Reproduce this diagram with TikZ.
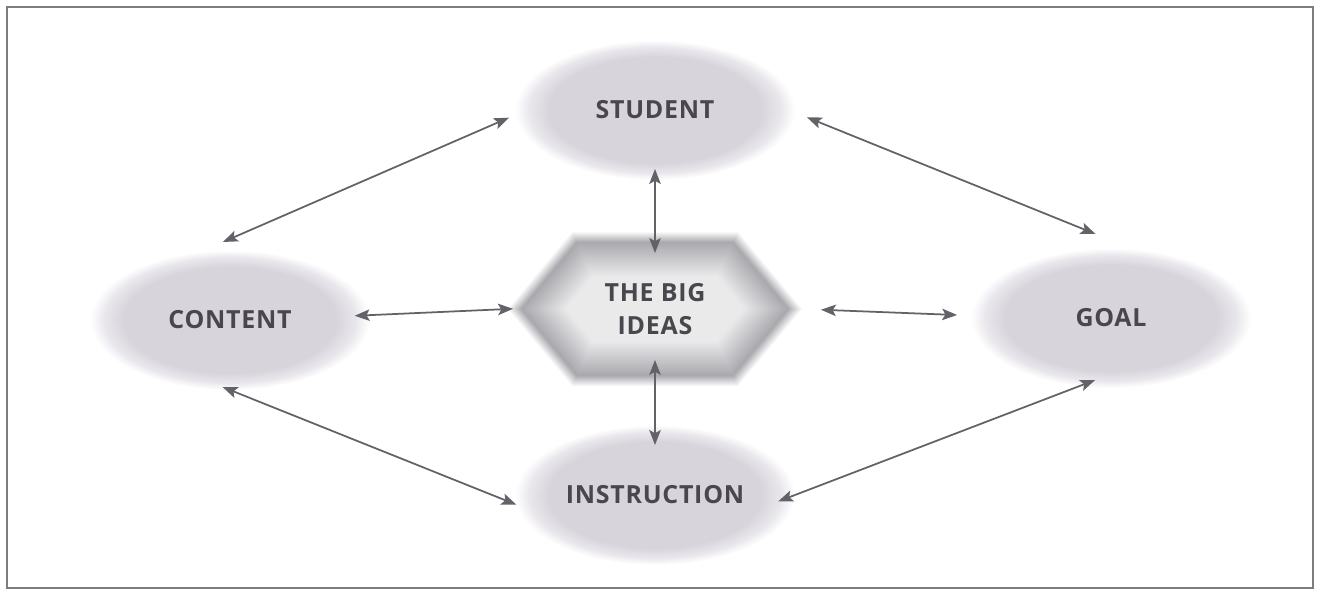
\documentclass[tikz,border=0pt]{standalone}
\usepackage{fontspec}
\setmainfont{Open Sans}[LetterSpace=3]
\usetikzlibrary{arrows.meta,shapes.geometric}

\definecolor{ovalgray}{RGB}{216,212,220}
\definecolor{ovalmid}{RGB}{233,231,236}
\definecolor{hexdark}{RGB}{84,82,92}
\definecolor{labelgray}{RGB}{72,71,78}
\definecolor{linkgray}{RGB}{98,98,104}
\definecolor{framegray}{RGB}{125,125,125}

% flat grey core, soft rim (25bp is the path's border)
\pgfdeclareradialshading{softoval}{\pgfpoint{0bp}{0bp}}{color(0bp)=(ovalgray); color(19bp)=(ovalgray); color(22.5bp)=(ovalmid); color(25bp)=(white); color(50bp)=(white)}

\begin{document}
\begin{tikzpicture}[x=0.02cm, y=-0.02cm,
  label/.style={font=\fontsize{14.2}{18.7}\selectfont\bfseries, text=labelgray},
  oval/.style={label, ellipse, shade, shading=softoval, minimum width=5.6cm, minimum height=2.8cm, inner sep=0pt, outer sep=0pt},
  link/.style={draw=linkgray, line width=1pt, {Stealth[length=8.5pt,width=6.5pt,inset=1.8pt]}-{Stealth[length=8.5pt,width=6.5pt,inset=1.8pt]}}]
  \useasboundingbox (0,0) rectangle (1322,592);
  \draw[framegray, line width=1.4pt] (7,7) rectangle (1313,588);

  % hexagon, built up from the blurred rim inwards
  \coordinate (hub) at (655,309);
  \begin{scope}[shift={(hub)}]
    \foreach \d in {0,1,...,46} {
      \pgfmathsetmacro\k{\d<10 ? 4+46*\d/10 : max(12,50-(\d-10)*1.1)}
      \fill[hexdark!\k!white] ({-147+1.3*\d},0) -- ({-83+0.469*\d},{-77+\d}) -- ({83-0.469*\d},{-77+\d})
        -- ({147-1.3*\d},0) -- ({83-0.469*\d},{77-\d}) -- ({-83+0.469*\d},{77-\d}) -- cycle;
    }
  \end{scope}
  \node[label, align=center, minimum width=5.88cm, minimum height=3.08cm, inner sep=0pt, outer sep=0pt] (ideas) at (hub) {THE BIG\\IDEAS};

  \node[oval] (student) at (655,110) {STUDENT};
  \node[oval] (content) at (230,320) {CONTENT};
  \node[oval] (goal) at (1111,318) {GOAL};
  \node[oval] (instruction) at (655,495) {INSTRUCTION};

  \draw[link, shorten <=0.14cm, shorten >=0.48cm] (student.182) -- (content.113);
  \draw[link, shorten <=0.26cm, shorten >=0.79cm] (student.-1) -- (goal.73);
  \draw[link, shorten <=-0.16cm] (content.270) -- (instruction.184);
  \draw[link, shorten <=-0.36cm, shorten >=-0.34cm] (instruction.0) -- (goal.245);
  \draw[link, shorten <=-0.3cm, shorten >=-0.1cm] (content.2) -- (ideas.west);
  \draw[link, shorten <=0.38cm, shorten >=0.28cm] (ideas.east) -- (goal.179);
  \draw[link, shorten <=-0.22cm, shorten >=-0.42cm] (student.south) -- (ideas.north);
  \draw[link, shorten <=-0.52cm, shorten >=-0.4cm] (ideas.south) -- (instruction.north);
\end{tikzpicture}
\end{document}
